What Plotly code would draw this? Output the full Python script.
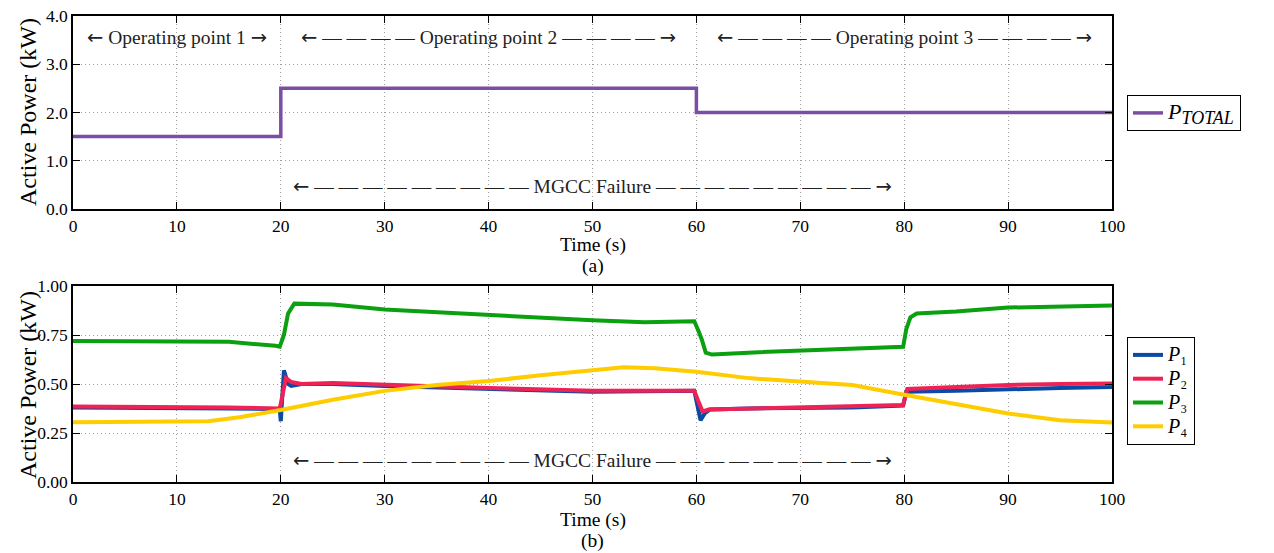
import plotly.graph_objects as go

# ---------------- data ----------------
t_total = [0, 20, 20, 60, 60, 100]
p_total = [1.5, 1.5, 2.5, 2.5, 2.0, 2.0]

t_p1 = [0, 5, 10, 15, 19.5, 19.9, 20.0, 20.3, 20.7, 21, 22, 25, 30, 40, 50, 59.8, 60.1, 60.4, 60.8, 61.3, 65, 70, 75, 79.9, 80.2, 85, 90, 95, 100]
p1 = [0.38, 0.38, 0.38, 0.375, 0.372, 0.37, 0.31, 0.57, 0.50, 0.49, 0.50, 0.50, 0.49, 0.475, 0.46, 0.465, 0.40, 0.315, 0.35, 0.37, 0.375, 0.375, 0.38, 0.39, 0.46, 0.465, 0.475, 0.48, 0.485]

t_p2 = [0, 10, 15, 19.9, 20.2, 20.5, 21, 22, 25, 30, 40, 50, 59.8, 60.2, 60.6, 61.2, 65, 70, 75, 79.9, 80.3, 85, 90, 95, 100]
p2 = [0.385, 0.385, 0.38, 0.375, 0.45, 0.53, 0.51, 0.50, 0.505, 0.495, 0.48, 0.465, 0.465, 0.41, 0.36, 0.37, 0.375, 0.378, 0.385, 0.393, 0.475, 0.485, 0.495, 0.50, 0.503]

t_p3 = [0, 10, 15, 19.5, 19.9, 20.3, 20.7, 21.3, 22, 25, 30, 35, 40, 45, 50, 55, 59.8, 60.2, 60.5, 60.9, 61.5, 65, 70, 75, 79.9, 80.2, 80.6, 81.2, 85, 90, 95, 100]
p3 = [0.72, 0.72, 0.715, 0.695, 0.69, 0.75, 0.86, 0.91, 0.91, 0.905, 0.88, 0.865, 0.855, 0.84, 0.825, 0.815, 0.82, 0.77, 0.73, 0.66, 0.65, 0.66, 0.67, 0.68, 0.69, 0.78, 0.84, 0.86, 0.87, 0.89, 0.895, 0.90]

t_p4 = [0, 10, 13, 16, 20, 25, 30, 35, 40, 45, 50, 53, 56, 60, 65, 70, 75, 80, 85, 90, 95, 100]
p4 = [0.305, 0.305, 0.31, 0.33, 0.367, 0.42, 0.465, 0.495, 0.515, 0.545, 0.572, 0.585, 0.58, 0.563, 0.53, 0.515, 0.495, 0.445, 0.395, 0.35, 0.315, 0.303]

x_ticks = [0, 10, 20, 30, 40, 50, 60, 70, 80, 90, 100]
y_ticks_a = [0.0, 1.0, 2.0, 3.0, 4.0]
y_ticks_b = [0.0, 0.25, 0.5, 0.75, 1.0]

# ---------------- figure ----------------
FONT = "Liberation Serif, Times New Roman, serif"
WIN_W, WIN_H = 1274, 553
OFF = 8  # default page body margin
W, H = WIN_W - OFF, WIN_H - OFF


def px(xp):
    return (xp - OFF) / W


def py(yp):
    return 1 - (yp - OFF) / H


def big(txt, size=20):
    return f"<span style='font-size:{size}px'>{txt}</span>"


fig = go.Figure()
fig.add_trace(go.Scatter(x=t_total, y=p_total, mode="lines",
                         name=big("<i>P</i><sub><i><span style='font-size:18px'>TOTAL</span></i></sub>", 22),
                         line=dict(color="#7b4ea3", width=3.5), xaxis="x", yaxis="y", legend="legend"))
fig.add_trace(go.Scatter(x=t_p1, y=p1, mode="lines", name=big("<i>P</i>₁"),
                         line=dict(color="#0a4aa6", width=4), xaxis="x2", yaxis="y2", legend="legend2"))
fig.add_trace(go.Scatter(x=t_p2, y=p2, mode="lines", name=big("<i>P</i>₂"),
                         line=dict(color="#ee2255", width=4), xaxis="x2", yaxis="y2", legend="legend2"))
fig.add_trace(go.Scatter(x=t_p3, y=p3, mode="lines", name=big("<i>P</i>₃"),
                         line=dict(color="#0aa010", width=4), xaxis="x2", yaxis="y2", legend="legend2"))
fig.add_trace(go.Scatter(x=t_p4, y=p4, mode="lines", name=big("<i>P</i>₄"),
                         line=dict(color="#ffcc00", width=4), xaxis="x2", yaxis="y2", legend="legend2"))

xdom = [px(73), px(1112)]
ydom_a = [py(209), py(16)]
ydom_b = [py(482), py(286)]

axis_common = dict(showline=True, linecolor="black", linewidth=1.5, mirror="ticks",
                   ticks="inside", ticklen=7, tickcolor="black", tickwidth=1,
                   showgrid=True, gridcolor="#a0a0a0", griddash="1px,3px", gridwidth=1,
                   zeroline=False, automargin=False, ticklabeloverflow="allow",
                   tickfont=dict(family=FONT, size=17.5, color="black"))

fig.update_layout(
    width=W, height=H,
    margin=dict(l=0, r=0, t=0, b=0, autoexpand=False),
    plot_bgcolor="white", paper_bgcolor="white",
    font=dict(family=FONT, color="black"),
    xaxis=dict(domain=xdom, range=[0, 100], tickvals=x_ticks, anchor="y", **axis_common),
    yaxis=dict(domain=ydom_a, range=[0, 4], tickvals=y_ticks_a, tickformat=".1f", anchor="x", **axis_common),
    xaxis2=dict(domain=xdom, range=[0, 100], tickvals=x_ticks, anchor="y2", **axis_common),
    yaxis2=dict(domain=ydom_b, range=[0, 1], tickvals=y_ticks_b, tickformat=".2f", anchor="x2", **axis_common),
    legend=dict(x=px(1127), y=py(95), xanchor="left", yanchor="top",
                bordercolor="black", borderwidth=1, bgcolor="white",
                font=dict(family=FONT, size=16), tracegroupgap=0),
    legend2=dict(x=px(1127), y=py(337), xanchor="left", yanchor="top",
                 bordercolor="black", borderwidth=1, bgcolor="white",
                 font=dict(family=FONT, size=16), tracegroupgap=0),
    showlegend=True,
)

LA = "<span style='font-family:DejaVu Sans'>←</span>"
RA = "<span style='font-family:DejaVu Sans'>→</span>"
ann_font = dict(family=FONT, size=19.5, color="#222222")
d4 = " ".join(["—"] * 4)
d9 = " ".join(["—"] * 9)
anns = [
    dict(x=10, y=3.55, xref="x", yref="y", text=f"{LA} Operating point 1 {RA}"),
    dict(x=40, y=3.55, xref="x", yref="y", text=f"{LA} {d4} Operating point 2 {d4} {RA}"),
    dict(x=80, y=3.55, xref="x", yref="y", text=f"{LA} {d4} Operating point 3 {d4} {RA}"),
    dict(x=50, y=0.47, xref="x", yref="y", text=f"{LA} {d9} MGCC Failure {d9} {RA}"),
    dict(x=50, y=0.112, xref="x2", yref="y2", text=f"{LA} {d9} MGCC Failure {d9} {RA}"),
]
for a in anns:
    fig.add_annotation(showarrow=False, font=ann_font, **a)

lab_font = dict(family=FONT, size=19.5, color="black")
for (ytxt, txt) in [(245, "Time (s)"), (266, "(a)"), (520, "Time (s)"), (541, "(b)")]:
    fig.add_annotation(x=(xdom[0] + xdom[1]) / 2, y=py(ytxt), xref="paper", yref="paper",
                       text=txt, showarrow=False, font=lab_font, yanchor="middle")
for ytxt in [112, 385]:
    fig.add_annotation(x=px(28), y=py(ytxt), xref="paper", yref="paper",
                       text="Active Power (kW)", textangle=-90, showarrow=False,
                       font=dict(family=FONT, size=24, color="black"),
                       xanchor="center", yanchor="middle")

fig.write_html("out.html")
